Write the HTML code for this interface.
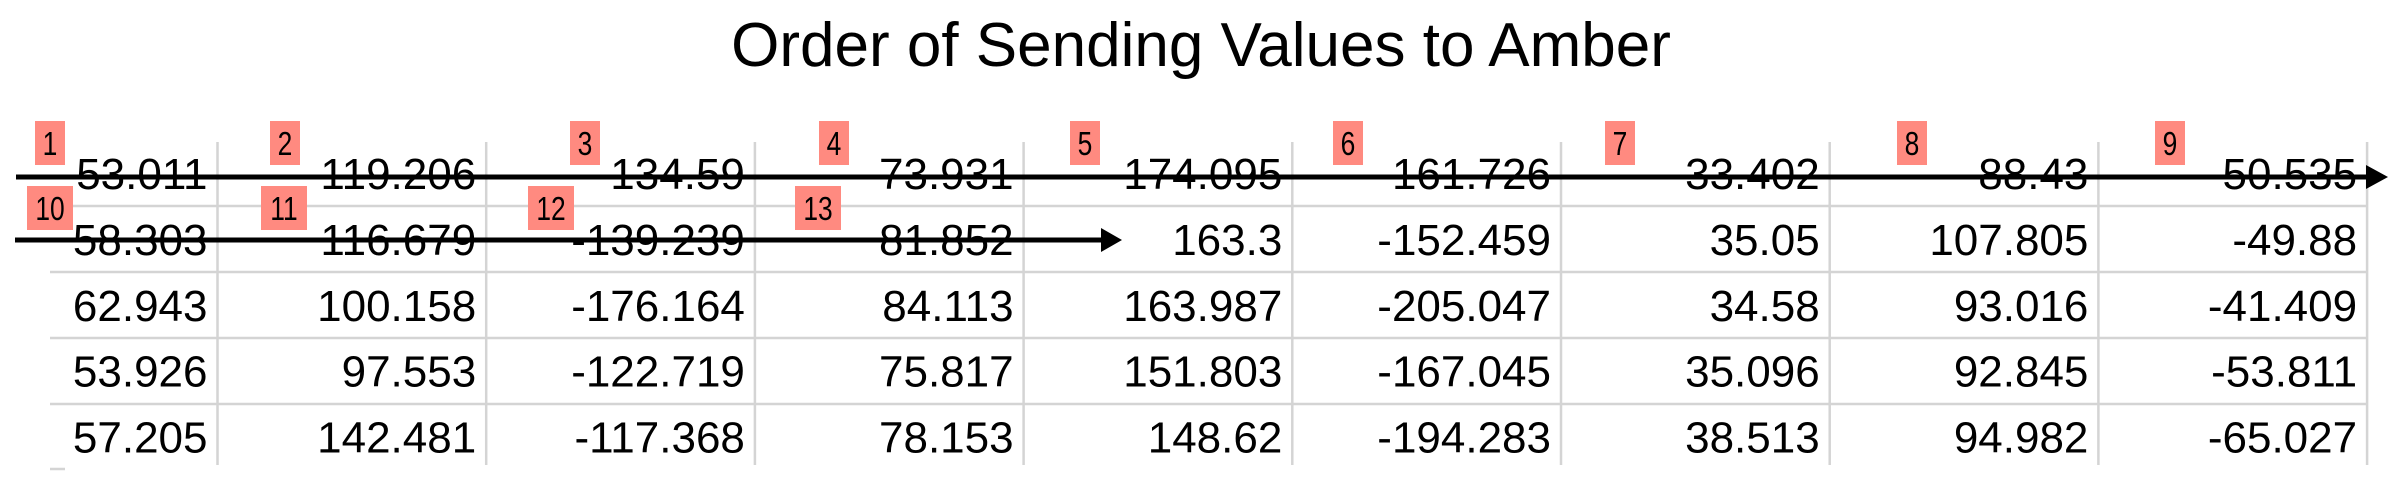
<!DOCTYPE html>
<html><head><meta charset="utf-8"><style>
html,body{margin:0;padding:0;background:#fff;}
svg{display:block;}
</style></head><body>
<svg id="chart" width="2402" height="484" viewBox="0 0 2402 484" xmlns="http://www.w3.org/2000/svg">
<text x="1201" y="66" text-anchor="middle" font-family="Liberation Sans, sans-serif" font-size="62" fill="#000">Order of Sending Values to Amber</text>
<g id="grid"></g>
<g id="cells"></g>
<g id="arrows"></g>
<g id="labels"></g>
</svg>
<script>
const col1 = [53.011, 58.303, 62.943, 53.926, 57.205];
const col2 = [119.206, 116.679, 100.158, 97.553, 142.481];
const col3 = [-134.59, -139.239, -176.164, -122.719, -117.368];
const col4 = [73.931, 81.852, 84.113, 75.817, 78.153];
const col5 = [174.095, 163.3, 163.987, 151.803, 148.62];
const col6 = [-161.726, -152.459, -205.047, -167.045, -194.283];
const col7 = [33.402, 35.05, 34.58, 35.096, 38.513];
const col8 = [88.43, 107.805, 93.016, 92.845, 94.982];
const col9 = [-50.535, -49.88, -41.409, -53.811, -65.027];
const orderLabels = ["1","2","3","4","5","6","7","8","9","10","11","12","13"];

const NS = "http://www.w3.org/2000/svg";
const cols = [col1,col2,col3,col4,col5,col6,col7,col8,col9];
const colRight = i => 217.5 + i*268.7;
const rowBase = r => 189 + 65.9*r;
const grid = document.getElementById('grid');
function mk(tag, attrs, parent){const e=document.createElementNS(NS,tag);for(const k in attrs)e.setAttribute(k,attrs[k]);parent.appendChild(e);return e;}

for(let i=0;i<cols.length;i++){
  const l = mk('line',{x1:colRight(i),x2:colRight(i),y1:142,y2:465,stroke:'#d4d4d4','stroke-width':2.5},grid);
  
  
}
for(let r=0;r<4;r++){
  const y = 206 + 66*r;
  const l = mk('line',{x1:50,x2:2368,y1:y,y2:y,stroke:'#d4d4d4','stroke-width':2.5},grid);
  
  
}
const tick = mk('line',{x1:50,x2:65,y1:469,y2:469,stroke:'#d4d4d4','stroke-width':2.5},grid);



const cells = document.getElementById('cells');
cols.forEach((c,i)=>{
  c.forEach((v,r)=>{
    const t = mk('text',{x:colRight(i)-10,y:rowBase(r),'text-anchor':'end','font-family':'Liberation Sans, sans-serif','font-size':44,fill:'#000'},cells);
    t.textContent = String(v);
    
    
  });
});

const arrows = document.getElementById('arrows');
const a1 = mk('g',{},arrows);


mk('line',{x1:16,x2:2370,y1:177,y2:177,stroke:'#000','stroke-width':5},a1);
mk('polygon',{points:'2366,165 2388,177 2366,189',fill:'#000'},a1);
const a2 = mk('g',{},arrows);


mk('line',{x1:15,x2:1105,y1:240,y2:240,stroke:'#000','stroke-width':5},a2);
mk('polygon',{points:'1101,228 1122,240 1101,252',fill:'#000'},a2);

const labelX = [35,270,570,819,1070,1333,1605,1897,2155,27,261,528,795];
const labels = document.getElementById('labels');
orderLabels.forEach((s,i)=>{
  const row2 = i>=9;
  const w = s.length>1 ? 46 : 30;
  const y = row2 ? 186 : 121;
  const g = mk('g',{},labels);
  
  
  mk('rect',{x:labelX[i],y:y,width:w,height:44,fill:'#ff8a80'},g);
  const t = mk('text',{x:0,y:0,'text-anchor':'middle','font-family':'Liberation Sans, sans-serif','font-size':33,fill:'#000',transform:'translate('+(labelX[i]+w/2)+','+(y+34)+') scale(0.8,1)'},g);
  t.textContent = s;
});
</script>
</body></html>
